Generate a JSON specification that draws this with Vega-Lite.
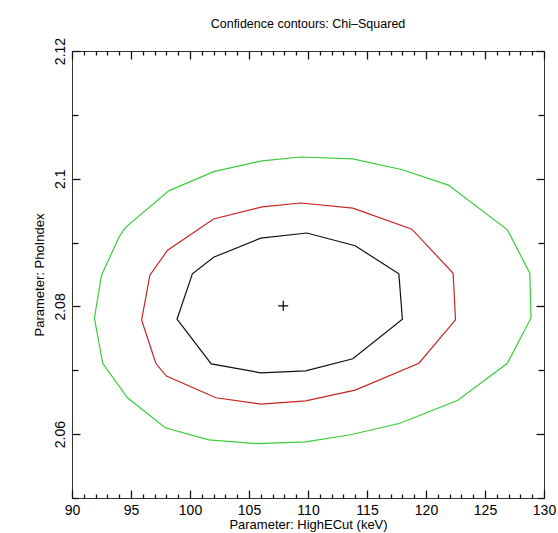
{
  "$schema": "https://vega.github.io/schema/vega-lite/v6.json",
  "autosize": "none",
  "width": 472,
  "height": 447,
  "padding": {"left": 72, "top": 51, "right": 14, "bottom": 35},
  "background": "white",
  "title": {"text": "Confidence contours: Chi–Squared", "font": "Liberation Sans", "fontSize": 12.5, "fontWeight": "normal", "anchor": "middle", "offset": 7, "color": "black"},
  "config": {"view": {"stroke": "#333333", "strokeWidth": 1}},
  "datasets": {
    "contours": [
      {"level": "3", "i": 0, "x": 106.1, "y": 2.1028},
      {"level": "3", "i": 1, "x": 109.4, "y": 2.1034},
      {"level": "3", "i": 2, "x": 113.8, "y": 2.1031},
      {"level": "3", "i": 3, "x": 118.0, "y": 2.1014},
      {"level": "3", "i": 4, "x": 121.9, "y": 2.0990},
      {"level": "3", "i": 5, "x": 126.9, "y": 2.0920},
      {"level": "3", "i": 6, "x": 128.8, "y": 2.0852},
      {"level": "3", "i": 7, "x": 128.9, "y": 2.0782},
      {"level": "3", "i": 8, "x": 126.9, "y": 2.0711},
      {"level": "3", "i": 9, "x": 122.7, "y": 2.0653},
      {"level": "3", "i": 10, "x": 117.8, "y": 2.0617},
      {"level": "3", "i": 11, "x": 113.6, "y": 2.0599},
      {"level": "3", "i": 12, "x": 109.8, "y": 2.0588},
      {"level": "3", "i": 13, "x": 105.8, "y": 2.0585},
      {"level": "3", "i": 14, "x": 101.6, "y": 2.0591},
      {"level": "3", "i": 15, "x": 97.9, "y": 2.0610},
      {"level": "3", "i": 16, "x": 94.7, "y": 2.0657},
      {"level": "3", "i": 17, "x": 92.6, "y": 2.0711},
      {"level": "3", "i": 18, "x": 91.9, "y": 2.0782},
      {"level": "3", "i": 19, "x": 92.5, "y": 2.0849},
      {"level": "3", "i": 20, "x": 94.0, "y": 2.0909},
      {"level": "3", "i": 21, "x": 94.5, "y": 2.0923},
      {"level": "3", "i": 22, "x": 98.2, "y": 2.0981},
      {"level": "3", "i": 23, "x": 102.0, "y": 2.1011},
      {"level": "3", "i": 24, "x": 106.1, "y": 2.1028},
      {"level": "2", "i": 0, "x": 106.1, "y": 2.0956},
      {"level": "2", "i": 1, "x": 109.4, "y": 2.0962},
      {"level": "2", "i": 2, "x": 113.8, "y": 2.0954},
      {"level": "2", "i": 3, "x": 118.8, "y": 2.0921},
      {"level": "2", "i": 4, "x": 122.3, "y": 2.0852},
      {"level": "2", "i": 5, "x": 122.5, "y": 2.0779},
      {"level": "2", "i": 6, "x": 119.4, "y": 2.0711},
      {"level": "2", "i": 7, "x": 114.0, "y": 2.0669},
      {"level": "2", "i": 8, "x": 109.8, "y": 2.0652},
      {"level": "2", "i": 9, "x": 106.0, "y": 2.0647},
      {"level": "2", "i": 10, "x": 102.2, "y": 2.0657},
      {"level": "2", "i": 11, "x": 98.0, "y": 2.0691},
      {"level": "2", "i": 12, "x": 97.1, "y": 2.0711},
      {"level": "2", "i": 13, "x": 95.9, "y": 2.0779},
      {"level": "2", "i": 14, "x": 96.6, "y": 2.0849},
      {"level": "2", "i": 15, "x": 98.1, "y": 2.0888},
      {"level": "2", "i": 16, "x": 102.0, "y": 2.0937},
      {"level": "2", "i": 17, "x": 106.1, "y": 2.0956},
      {"level": "1", "i": 0, "x": 106.0, "y": 2.0907},
      {"level": "1", "i": 1, "x": 109.9, "y": 2.0915},
      {"level": "1", "i": 2, "x": 114.0, "y": 2.0895},
      {"level": "1", "i": 3, "x": 117.7, "y": 2.0851},
      {"level": "1", "i": 4, "x": 118.0, "y": 2.0780},
      {"level": "1", "i": 5, "x": 113.8, "y": 2.0718},
      {"level": "1", "i": 6, "x": 109.8, "y": 2.0699},
      {"level": "1", "i": 7, "x": 106.0, "y": 2.0696},
      {"level": "1", "i": 8, "x": 101.8, "y": 2.0710},
      {"level": "1", "i": 9, "x": 98.9, "y": 2.0780},
      {"level": "1", "i": 10, "x": 100.2, "y": 2.0851},
      {"level": "1", "i": 11, "x": 102.0, "y": 2.0877},
      {"level": "1", "i": 12, "x": 106.0, "y": 2.0907}
    ],
    "best": [{"x": 107.9, "y": 2.0801}]
  },
  "layer": [
    {
      "data": {"name": "contours"},
      "mark": {"type": "line", "strokeWidth": 1.2, "clip": true},
      "encoding": {
        "x": {"field": "x", "type": "quantitative",
          "scale": {"domain": [90, 130], "nice": false, "zero": false},
          "axis": {"orient": "bottom", "title": "Parameter: HighECut (keV)", "values": [90,95,100,105,110,115,120,125,130],
            "format": "d", "tickSize": -8, "labelFlush": false, "labelOverlap": false,
            "tickColor": "#111111", "tickWidth": 1.3, "domain": false, "grid": false,
            "labelFont": "Liberation Sans", "labelFontSize": 14, "labelColor": "black", "labelPadding": 13,
            "titleFont": "Liberation Sans", "titleFontSize": 13, "titleFontWeight": "normal", "titleColor": "black", "titlePadding": 1}},
        "y": {"field": "y", "type": "quantitative",
          "scale": {"domain": [2.05, 2.12], "nice": false, "zero": false},
          "axis": {"orient": "left", "title": "Parameter: PhoIndex", "values": [2.06,2.08,2.1,2.12],
            "labelExpr": "format(datum.value, '.2~f')", "labelFlush": false, "labelOverlap": false,
            "tickSize": -8,
            "tickColor": "#111111", "tickWidth": 1.3, "domain": false, "grid": false,
            "labelAngle": -90, "labelAlign": "center", "labelBaseline": "bottom",
            "labelFont": "Liberation Sans", "labelFontSize": 14, "labelColor": "black", "labelPadding": 13,
            "titleFont": "Liberation Sans", "titleFontSize": 13, "titleFontWeight": "normal", "titleColor": "black", "titlePadding": 7}},
        "color": {"field": "level", "type": "nominal", "scale": {"domain": ["1", "2", "3"], "range": ["#111111", "#c42424", "#3ccc3c"]}, "legend": null},
        "order": {"field": "i", "type": "quantitative"}
      }
    },
    {
      "data": {"name": "best"},
      "mark": {"type": "point", "shape": "M-1,0H1M0,-1V1", "size": 100, "stroke": "black", "strokeWidth": 1.2, "filled": false, "opacity": 1},
      "encoding": {
        "x": {"field": "x", "type": "quantitative",
          "axis": {"orient": "top", "title": null, "labels": false, "values": [90,95,100,105,110,115,120,125,130],
            "tickSize": -8, "tickColor": "#111111", "tickWidth": 1.3, "domain": false, "grid": false}},
        "y": {"field": "y", "type": "quantitative",
          "axis": {"orient": "right", "title": null, "labels": false, "values": [2.06,2.08,2.1,2.12],
            "tickSize": -8, "tickColor": "#111111", "tickWidth": 1.3, "domain": false, "grid": false}}
      }
    },
    {
      "data": {"name": "best"},
      "mark": {"type": "point", "opacity": 0},
      "encoding": {
        "x": {"field": "x", "type": "quantitative",
          "axis": {"orient": "bottom", "title": null, "labels": false, "values": [91,92,93,94,96,97,98,99,101,102,103,104,106,107,108,109,111,112,113,114,116,117,118,119,121,122,123,124,126,127,128,129],
            "tickSize": -4, "tickColor": "#111111", "tickWidth": 1.3, "domain": false, "grid": false}},
        "y": {"field": "y", "type": "quantitative",
          "axis": {"orient": "left", "title": null, "labels": false, "values": [2.05,2.07,2.09,2.11],
            "tickSize": -6, "tickColor": "#111111", "tickWidth": 1.3, "domain": false, "grid": false}}
      }
    },
    {
      "data": {"name": "best"},
      "mark": {"type": "point", "opacity": 0},
      "encoding": {
        "x": {"field": "x", "type": "quantitative",
          "axis": {"orient": "top", "title": null, "labels": false, "values": [91,92,93,94,96,97,98,99,101,102,103,104,106,107,108,109,111,112,113,114,116,117,118,119,121,122,123,124,126,127,128,129],
            "tickSize": -4, "tickColor": "#111111", "tickWidth": 1.3, "domain": false, "grid": false}},
        "y": {"field": "y", "type": "quantitative",
          "axis": {"orient": "right", "title": null, "labels": false, "values": [2.05,2.07,2.09,2.11],
            "tickSize": -6, "tickColor": "#111111", "tickWidth": 1.3, "domain": false, "grid": false}}
      }
    }
  ],
  "resolve": {"axis": {"x": "independent", "y": "independent"}}
}
